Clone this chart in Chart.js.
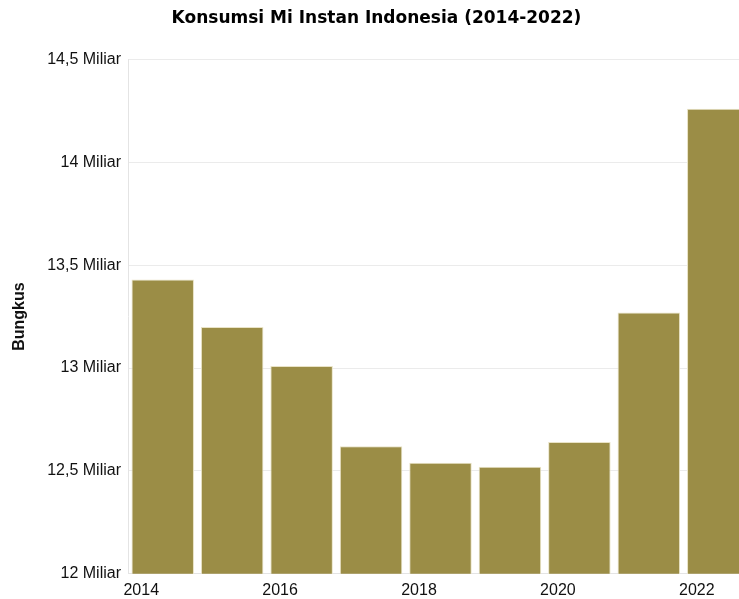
<!DOCTYPE html>
<html>
<head>
<meta charset="utf-8">
<script src="https://cdn.jsdelivr.net/npm/chart.js@4.4.0/dist/chart.umd.min.js"></script>
<style>
  html, body { margin: 0; padding: 0; background: #fff; overflow: hidden; }
  #wrap { width: 739px; height: 599px; overflow: hidden; }
</style>
</head>
<body>
<div id="wrap"><canvas id="mieChart" width="753" height="607"></canvas></div>
<script>
// Konsumsi mi instan, dalam miliar bungkus
const years = ["2014", "2015", "2016", "2017", "2018", "2019", "2020", "2021", "2022"];
const consumption = [13.43, 13.20, 13.01, 12.62, 12.54, 12.52, 12.64, 13.27, 14.26];

const tickFont = { family: "'Helvetica Neue', Arial, 'Liberation Sans', sans-serif", size: 16 };

function formatMiliar(v) {
  return String(v).replace(".", ",") + " Miliar";
}

const ctx = document.getElementById("mieChart").getContext("2d");

new Chart(ctx, {
  type: "bar",
  data: {
    labels: years,
    datasets: [{
      label: "Bungkus",
      data: consumption,
      backgroundColor: "#9b8d46",
      borderColor: "#e9e3c6",
      borderWidth: 1,
      barPercentage: 0.9,
      categoryPercentage: 1.0
    }]
  },
  options: {
    responsive: false,
    animation: false,
    layout: { padding: { left: 0, right: 0, top: 0, bottom: 0 } },
    plugins: {
      legend: { display: false },
      tooltip: { enabled: false },
      title: {
        display: true,
        text: "Konsumsi Mi Instan Indonesia (2014-2022)",
        color: "#000",
        font: { family: "'DejaVu Sans', Verdana, sans-serif", size: 17, weight: "bold" },
        padding: { top: 8, bottom: 31 }
      }
    },
    scales: {
      x: {
        grid: { display: false, drawTicks: false },
        border: { display: true, color: "#e4e4e4" },
        ticks: {
          color: "#111",
          font: tickFont,
          padding: 7,
          autoSkip: false,
          maxRotation: 0,
          labelOffset: -21.5,
          callback: function (value, index) {
            return index % 2 === 0 ? this.getLabelForValue(value) : "";
          }
        }
      },
      y: {
        min: 12,
        max: 14.5,
        grid: { color: "#ebebeb", drawTicks: false },
        border: { display: true, color: "#e4e4e4" },
        ticks: {
          stepSize: 0.5,
          color: "#111",
          font: tickFont,
          padding: 7,
          callback: v => formatMiliar(v)
        },
        title: {
          display: true,
          text: "Bungkus",
          color: "#111",
          font: { family: "'Helvetica Neue', Arial, 'Liberation Sans', sans-serif", size: 16, weight: "bold" },
          padding: { top: 10, bottom: 11 }
        }
      }
    }
  }
});
</script>
</body>
</html>
